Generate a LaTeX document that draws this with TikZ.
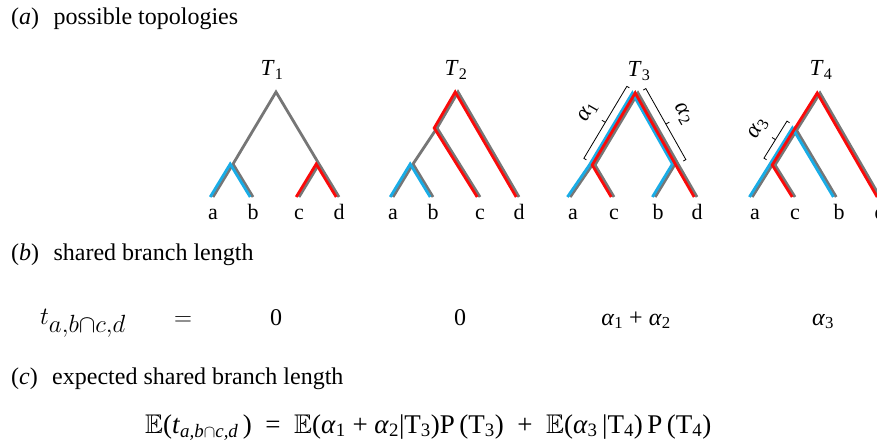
\documentclass[tikz,border=0pt]{standalone}
\usepackage{amssymb}
\usepackage{fontspec}
\setmainfont{Liberation Serif}
\usetikzlibrary{calc}
\definecolor{brgray}{RGB}{118,118,118}
\definecolor{brblue}{RGB}{25,172,230}
\definecolor{brred}{RGB}{250,10,10}
\newcommand{\fs}[1]{\fontsize{#1}{#1}\selectfont}
\newcommand{\al}[1]{\textit{α}\textsubscript{#1}}
% bracket along a branch: start, end, name
\newcommand{\brkt}[3]{%
  \coordinate (#3m) at ($(#1)!0.5!(#2)$);
  \draw[brk] ($(#1)!3pt!-90:(#2)$) -- (#1) -- (#2) -- ($(#2)!3pt!90:(#1)$);
  \draw[brk] (#3m) -- ($(#3m)!4pt!90:(#2)$);}

\begin{document}
\begin{tikzpicture}[x=1pt,y=-1pt,
  gbr/.style={draw=brgray,line width=2.8pt},
  bbr/.style={draw=brblue,line width=2.8pt},
  rbr/.style={draw=brred,line width=2.8pt},
  off/.style={transform canvas={xshift=#1}},
  leaf/.style={anchor=base,font=\fs{22},inner sep=0pt},
  tlab/.style={anchor=base,font=\fs{23},inner sep=0pt},
  alab/.style={font=\fs{23},inner sep=0pt},
  brk/.style={draw=black,line width=0.8pt},
  head/.style={anchor=base west,font=\fs{24},inner sep=0pt}]
  \useasboundingbox (0,0) rectangle (877,443);
  \clip (0,0) rectangle (877,443);

  \node[head] (ha) at (11,25) {(\textit{a})\hspace{0.6em}possible topologies};

  % T1: ((a,b),(c,d))
  \coordinate (r1) at (276,92); \coordinate (u1) at (233,164); \coordinate (v1) at (319,164);
  \foreach \n/\x in {a/213,b/253,c/299,d/339} {
    \coordinate (\n1) at (\x,197);
    \node[leaf] (l\n1) at (\x,220) {\n};}
  \node[tlab] (t1) at (272,76) {\textit{T}\textsubscript{1}};
  \draw[gbr] (a1) -- (u1) -- (b1) (u1) -- (r1) -- (v1) (c1) -- (v1) -- (d1);
  \begin{scope}[off=-2.8pt]
    \draw[bbr] (a1) -- (u1) -- (b1);
    \draw[rbr] (c1) -- (v1) -- (d1);
  \end{scope}

  % T2: (((a,b),c),d)
  \coordinate (r2) at (458,92); \coordinate (w2) at (437,128); \coordinate (u2) at (413,164);
  \foreach \n/\x in {a/393,b/433,c/480,d/519} {
    \coordinate (\n2) at (\x,197);
    \node[leaf] (l\n2) at (\x,220) {\n};}
  \node[tlab] (t2) at (456,76) {\textit{T}\textsubscript{2}};
  \draw[gbr] (a2) -- (u2) -- (b2) (u2) -- (w2) -- (r2) -- (d2) (w2) -- (c2);
  \begin{scope}[off=-2.8pt]
    \draw[bbr] (a2) -- (u2) -- (b2);
    \draw[rbr] (c2) -- (w2) -- (r2) -- (d2);
  \end{scope}

  % T3: ((a,c),(b,d))
  \coordinate (r3) at (638,93); \coordinate (u3) at (595,165); \coordinate (v3) at (678,164);
  \foreach \n/\x in {a/573,c/614,b/658,d/697} {
    \coordinate (\n3) at (\x,197);
    \node[leaf] (l\n3) at (\x,220) {\n};}
  \node[tlab] (t3) at (639,77) {\textit{T}\textsubscript{3}};
  \draw[gbr] (c3) -- (u3) -- (r3) -- (v3) -- (d3);
  \begin{scope}[off=-2.8pt]
    \draw[gbr] (a3) -- (u3) -- (r3) -- (v3) -- (b3);
  \end{scope}
  \begin{scope}[off=-5.6pt]
    \draw[bbr] (a3) -- (u3) -- (r3) -- (v3) -- (b3);
  \end{scope}
  \begin{scope}[off=-2.8pt]
    \draw[rbr] (c3) -- (u3) -- (r3) -- (v3) -- (d3);
  \end{scope}
  \coordinate (k1p) at ($(u3)!13pt!90:(r3)$); \coordinate (k1q) at ($(r3)!13pt!-90:(u3)$);
  \coordinate (k2p) at ($(r3)!9pt!90:(v3)$); \coordinate (k2q) at ($(v3)!9pt!-90:(r3)$);
  \brkt{k1p}{k1q}{k1} \brkt{k2p}{k2q}{k2}
  \node[alab,rotate=60] (al1) at ($(k1m)!20pt!90:(k1q)$) {\al{1}};
  \node[alab,rotate=-60] (al2) at ($(k2m)!20pt!90:(k2q)$) {\al{2}};

  % T4: (((a,c),b),d)
  \coordinate (r4) at (820,93); \coordinate (w4) at (798,128); \coordinate (u4) at (775,165);
  \foreach \n/\x in {a/755,c/795,b/839,d/880} {
    \coordinate (\n4) at (\x,197);
    \node[leaf] (l\n4) at (\x,220) {\n};}
  \node[tlab] (t4) at (821,76) {\textit{T}\textsubscript{4}};
  \draw[gbr] (c4) -- (u4) -- (w4) -- (r4) -- (d4);
  \begin{scope}[off=-2.8pt]
    \draw[gbr] (a4) -- (u4) -- (w4) -- (b4);
  \end{scope}
  \begin{scope}[off=-5.6pt]
    \draw[bbr] (a4) -- (u4) -- (w4) -- (b4);
  \end{scope}
  \begin{scope}[off=-2.8pt]
    \draw[rbr] (c4) -- (u4) -- (w4) -- (r4) -- (d4);
  \end{scope}
  \coordinate (k3p) at ($(u4)!13pt!90:(w4)$); \coordinate (k3q) at ($(w4)!13pt!-90:(u4)$);
  \brkt{k3p}{k3q}{k3}
  \node[alab,rotate=60] (al3) at ($(k3m)!20pt!90:(k3q)$) {\al{3}};

  % shared branch length
  \node[head] (hb) at (11,261) {(\textit{b})\hspace{0.6em}shared branch length};
  \node[anchor=base west,inner sep=0pt,font=\fs{28}] (tab) at (40,324) {$t_{\textstyle a{,}b{\cap}c{,}d}$};
  \node[anchor=base,inner sep=0pt,font=\fs{24}] (eqb) at (183,325) {$=$};
  \foreach \x/\v [count=\i] in {276/0,460/0,636/{\al{1} + \al{2}},823/\al{3}}
    \node[anchor=base,inner sep=0pt,font=\fs{24}] (s\i) at (\x,325) {\v};

  % expected shared branch length
  \node[head] (hc) at (11,384) {(\textit{c})\hspace{0.6em}expected shared branch length};
  \node[head,font=\fs{27}] (eqc) at (145,433) {$\mathbb{E}$(\textit{t}\textsubscript{\textit{a,b}$\cap$\textit{c,d}}\,)\enspace=\enspace$\mathbb{E}$(\al{1} + \al{2}|T\textsubscript{3})P\,(T\textsubscript{3})\enspace+\enspace$\mathbb{E}$(\al{3}\,|T\textsubscript{4})\,P\,(T\textsubscript{4})};
\end{tikzpicture}
\end{document}
